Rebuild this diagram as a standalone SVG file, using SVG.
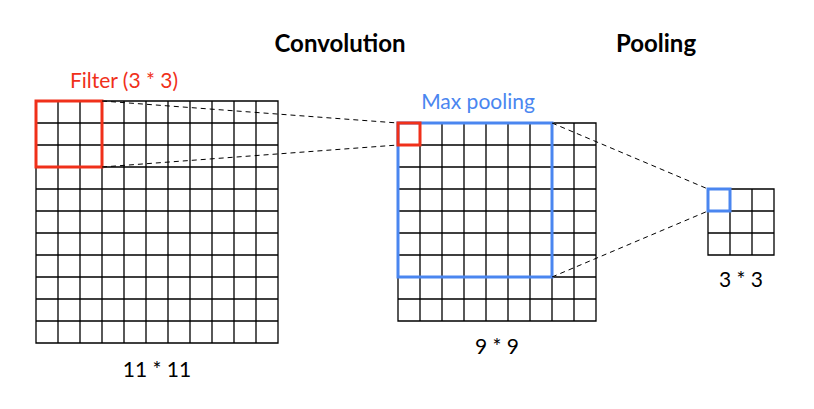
<svg xmlns="http://www.w3.org/2000/svg" width="814" height="409" viewBox="0 0 814 409">
<defs>
<style>
.grid{fill:none;stroke:#000;stroke-width:1.3}
.dash{fill:none;stroke:#000;stroke-width:1;stroke-dasharray:5,4}
.red{fill:none;stroke:#f0301a;stroke-width:3}
.blue{fill:none;stroke:#4a86f0;stroke-width:3}
.title{font-family:Lato,"Liberation Sans",sans-serif;font-weight:bold;font-size:24px;fill:#000;text-anchor:middle}
.lbl{font-family:Lato,"Liberation Sans",sans-serif;font-size:21px;text-anchor:middle}
</style>
</defs>
<rect width="814" height="409" fill="#fff"/>
<text class="title" x="340" y="52">Convolution</text>
<text class="title" x="656" y="52">Pooling</text>
<g id="input">
<path class="grid" d="M36 101H278V343H36Z M58 101V343 M80 101V343 M102 101V343 M124 101V343 M146 101V343 M168 101V343 M190 101V343 M212 101V343 M234 101V343 M256 101V343 M36 123H278 M36 145H278 M36 167H278 M36 189H278 M36 211H278 M36 233H278 M36 255H278 M36 277H278 M36 299H278 M36 321H278"/>
<text class="lbl" x="157" y="377" fill="#000">11 * 11</text>
</g>
<g id="filter">
<rect class="red" x="36" y="101" width="66" height="66"/>
<text class="lbl" x="124" y="88" fill="#f0301a">Filter (3 * 3)</text>
</g>
<g id="conv">
<path class="grid" d="M398 123H596V321H398Z M420 123V321 M442 123V321 M464 123V321 M486 123V321 M508 123V321 M530 123V321 M552 123V321 M574 123V321 M398 145H596 M398 167H596 M398 189H596 M398 211H596 M398 233H596 M398 255H596 M398 277H596 M398 299H596"/>
<text class="lbl" x="497" y="354" fill="#000">9 * 9</text>
</g>
<g id="maxpool">
<rect class="blue" x="398" y="123" width="154" height="154"/>
<text class="lbl" x="478" y="109" fill="#4a86f0">Max pooling</text>
</g>
<g id="conv-cell">
<rect class="red" x="398" y="123" width="22" height="22"/>
</g>
<g id="pool">
<path class="grid" d="M708 189H774V255H708Z M730 189V255 M752 189V255 M708 211H774 M708 233H774"/>
<rect class="blue" x="708" y="189" width="22" height="22"/>
<text class="lbl" x="741" y="287" fill="#000">3 * 3</text>
</g>
<g id="connectors">
<line class="dash" x1="102" y1="101" x2="398" y2="123"/>
<line class="dash" x1="102" y1="167" x2="398" y2="145"/>
<line class="dash" x1="552" y1="123" x2="708" y2="189"/>
<line class="dash" x1="552" y1="277" x2="708" y2="211"/>
</g>
</svg>
